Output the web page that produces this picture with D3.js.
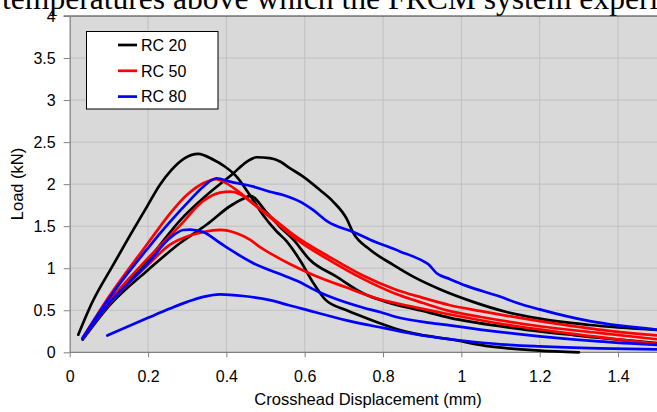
<!DOCTYPE html>
<html>
<head>
<meta charset="utf-8">
<script src="https://cdn.jsdelivr.net/npm/d3@7"></script>
<style>
  html, body { margin: 0; padding: 0; background: #fff; overflow: hidden; }
  svg { display: block; }
</style>
</head>
<body>
<svg id="chart" width="657" height="412"></svg>
<script>
// Load vs. crosshead displacement, three specimens per mix
const seriesNames = ["RC 20", "RC 50", "RC 80"];
const seriesColors = ["#000000", "#ff0000", "#0000ff"];

const xTicks = [0, 0.2, 0.4, 0.6, 0.8, 1, 1.2, 1.4];
const yTicks = [0, 0.5, 1, 1.5, 2, 2.5, 3, 3.5, 4];

// RC 20 specimens: [displacement (mm), load (kN)]
const rc20a = [[0.022,0.21],[0.056,0.58],[0.111,1.04],[0.154,1.39],[0.197,1.73],[0.23,1.99],[0.26,2.17],[0.294,2.31],[0.328,2.36],[0.367,2.29],[0.396,2.21],[0.426,2.09],[0.46,1.87],[0.494,1.63],[0.528,1.44],[0.554,1.32],[0.59,1.08],[0.62,0.84],[0.652,0.63],[0.707,0.50],[0.75,0.42],[0.792,0.345],[0.826,0.29],[0.894,0.21],[0.971,0.155],[1.073,0.07],[1.2,0.02],[1.3,0.0]];
const rc20b = [[0.033,0.16],[0.1,0.6],[0.2,1.1],[0.282,1.57],[0.35,1.87],[0.418,2.13],[0.45,2.26],[0.477,2.32],[0.511,2.31],[0.537,2.27],[0.562,2.19],[0.596,2.09],[0.639,1.93],[0.673,1.79],[0.707,1.59],[0.724,1.42],[0.767,1.22],[0.826,1.04],[0.877,0.90],[0.945,0.75],[1.03,0.60],[1.115,0.48],[1.2,0.40],[1.328,0.325],[1.5,0.265]];
const rc20c = [[0.033,0.15],[0.1,0.55],[0.2,0.98],[0.282,1.30],[0.35,1.52],[0.41,1.74],[0.44,1.82],[0.462,1.86],[0.5,1.68],[0.535,1.5],[0.571,1.34],[0.613,1.10],[0.681,0.90],[0.75,0.70],[0.808,0.60],[0.894,0.50],[0.971,0.41],[1.115,0.30],[1.286,0.205],[1.5,0.11]];

// RC 50 specimens
const rc50a = [[0.033,0.17],[0.1,0.66],[0.2,1.3],[0.256,1.65],[0.299,1.87],[0.341,2.01],[0.375,2.06],[0.392,2.03],[0.426,1.93],[0.469,1.77],[0.511,1.62],[0.58,1.37],[0.665,1.13],[0.75,0.91],[0.83,0.75],[0.9,0.65],[0.971,0.56],[1.05,0.49],[1.2,0.37],[1.35,0.27],[1.5,0.2]];
const rc50b = [[0.033,0.16],[0.1,0.6],[0.2,1.12],[0.282,1.51],[0.341,1.8],[0.384,1.9],[0.41,1.91],[0.435,1.88],[0.47,1.76],[0.5,1.65],[0.58,1.34],[0.665,1.09],[0.75,0.87],[0.83,0.70],[0.9,0.59],[0.971,0.49],[1.05,0.42],[1.2,0.31],[1.35,0.23],[1.5,0.155]];
const rc50c = [[0.033,0.16],[0.1,0.57],[0.2,1.04],[0.256,1.28],[0.307,1.39],[0.341,1.43],[0.384,1.455],[0.426,1.415],[0.46,1.34],[0.486,1.25],[0.511,1.18],[0.562,1.05],[0.622,0.92],[0.707,0.77],[0.792,0.63],[0.877,0.54],[0.971,0.45],[1.1,0.34],[1.3,0.21],[1.5,0.10]];

// RC 80 specimens
const rc80a = [[0.033,0.17],[0.1,0.64],[0.2,1.24],[0.256,1.55],[0.307,1.81],[0.341,1.97],[0.375,2.07],[0.409,2.03],[0.469,1.97],[0.511,1.91],[0.545,1.87],[0.6,1.76],[0.622,1.69],[0.66,1.55],[0.724,1.43],[0.767,1.34],[0.843,1.20],[0.9,1.09],[0.915,1.05],[0.937,0.94],[0.971,0.87],[1.013,0.79],[1.1,0.66],[1.141,0.59],[1.2,0.51],[1.328,0.37],[1.5,0.27]];
const rc80b = [[0.033,0.16],[0.1,0.58],[0.2,1.06],[0.256,1.36],[0.29,1.455],[0.307,1.46],[0.341,1.43],[0.384,1.30],[0.41,1.22],[0.469,1.06],[0.537,0.93],[0.58,0.85],[0.639,0.71],[0.665,0.66],[0.75,0.53],[0.792,0.48],[0.834,0.42],[0.92,0.35],[0.971,0.32],[1.048,0.27],[1.2,0.19],[1.35,0.13],[1.5,0.087]];
const rc80c = [[0.096,0.2],[0.15,0.31],[0.2,0.41],[0.256,0.52],[0.3,0.6],[0.341,0.66],[0.384,0.69],[0.443,0.67],[0.511,0.62],[0.56,0.56],[0.6,0.51],[0.707,0.38],[0.8,0.29],[0.9,0.2],[1.0,0.14],[1.1,0.095],[1.2,0.07],[1.35,0.047],[1.5,0.035]];

const curves = [
  { group: 0, pts: rc20a }, { group: 0, pts: rc20b }, { group: 0, pts: rc20c },
  { group: 1, pts: rc50a }, { group: 1, pts: rc50b }, { group: 1, pts: rc50c },
  { group: 2, pts: rc80a }, { group: 2, pts: rc80b }, { group: 2, pts: rc80c }
];

const svg = d3.select("#chart");
const plot = { left: 69.7, top: 16, bottom: 352.3 };

const x = d3.scaleLinear().domain([0, 1.5]).range([plot.left, 657.2]);
const y = d3.scaleLinear().domain([0, 4]).range([plot.bottom, plot.top]);

// Running text of the surrounding page, cut by the figure edge
svg.append("text")
  .attr("x", 2).attr("y", 9)
  .attr("font-family", "'Liberation Serif', 'Times New Roman', serif")
  .attr("font-size", 31.6)
  .attr("fill", "#000")
  .text("temperatures above which the FRCM system experi");

// Plot background
svg.append("rect")
  .attr("x", plot.left).attr("y", plot.top)
  .attr("width", 657 - plot.left).attr("height", plot.bottom - plot.top)
  .attr("fill", "#d9d9d9");

// Gridlines
svg.append("g").selectAll("line").data(xTicks.filter(d => d > 0)).join("line")
  .attr("x1", d => x(d)).attr("x2", d => x(d))
  .attr("y1", plot.top).attr("y2", plot.bottom)
  .attr("stroke", "#c0c0c0").attr("stroke-width", 1);
svg.append("g").selectAll("line").data(yTicks.filter(d => d > 0 && d < 4)).join("line")
  .attr("x1", plot.left).attr("x2", 657)
  .attr("y1", d => y(d)).attr("y2", d => y(d))
  .attr("stroke", "#c0c0c0").attr("stroke-width", 1);

// Top border of the plot area
svg.append("line")
  .attr("x1", plot.left - 6).attr("x2", 657)
  .attr("y1", plot.top).attr("y2", plot.top)
  .attr("stroke", "#333").attr("stroke-width", 1);

// Axes
const fmt = d => String(+d.toFixed(1));
const xAxis = svg.append("g")
  .attr("transform", `translate(0,${plot.bottom})`)
  .call(d3.axisBottom(x).tickValues(xTicks).tickFormat(fmt).tickSize(5).tickPadding(13).tickSizeOuter(0));
const yAxis = svg.append("g")
  .attr("transform", `translate(${plot.left},0)`)
  .call(d3.axisLeft(y).tickValues(yTicks).tickFormat(fmt).tickSize(6).tickPadding(8).tickSizeOuter(0));

[xAxis, yAxis].forEach(a => {
  a.select(".domain").attr("stroke", "#808080").attr("stroke-width", 1.2);
  a.selectAll(".tick line").attr("stroke", "#808080");
  a.selectAll(".tick text")
    .attr("font-family", "'Liberation Sans', Arial, sans-serif")
    .attr("font-size", 16).attr("fill", "#000");
});
xAxis.select(".domain").attr("d", `M${plot.left},0H657`);

// Axis titles
svg.append("text")
  .attr("x", 368).attr("y", 405)
  .attr("text-anchor", "middle")
  .attr("font-family", "'Liberation Sans', Arial, sans-serif")
  .attr("font-size", 16.5)
  .text("Crosshead Displacement (mm)");
svg.append("text")
  .attr("transform", "translate(23,184) rotate(-90)")
  .attr("text-anchor", "middle")
  .attr("font-family", "'Liberation Sans', Arial, sans-serif")
  .attr("font-size", 16.5)
  .text("Load (kN)");

// Curves
const line = d3.line().x(d => x(d[0])).y(d => y(d[1])).curve(d3.curveMonotoneX);
svg.append("g").selectAll("path").data(curves).join("path")
  .attr("d", d => line(d.pts))
  .attr("fill", "none")
  .attr("stroke", d => seriesColors[d.group])
  .attr("stroke-width", 2.7)
  .attr("stroke-linejoin", "round")
  .attr("stroke-linecap", "round");

// Legend
const legend = svg.append("g");
legend.append("rect")
  .attr("x", 86.5).attr("y", 31.5).attr("width", 131.5).attr("height", 77.5)
  .attr("fill", "#fff").attr("stroke", "#000").attr("stroke-width", 1);
const rows = legend.selectAll("g.row").data(seriesNames).join("g")
  .attr("class", "row")
  .attr("transform", (d, i) => `translate(0,${45 + i * 25.8})`);
rows.append("line")
  .attr("x1", 118).attr("x2", 137).attr("y1", 0).attr("y2", 0)
  .attr("stroke", (d, i) => seriesColors[i]).attr("stroke-width", 2.7);
rows.append("text")
  .attr("x", 141).attr("y", 0).attr("dy", "0.36em")
  .attr("font-family", "'Liberation Sans', Arial, sans-serif")
  .attr("font-size", 16)
  .text(d => d);
</script>
</body>
</html>
